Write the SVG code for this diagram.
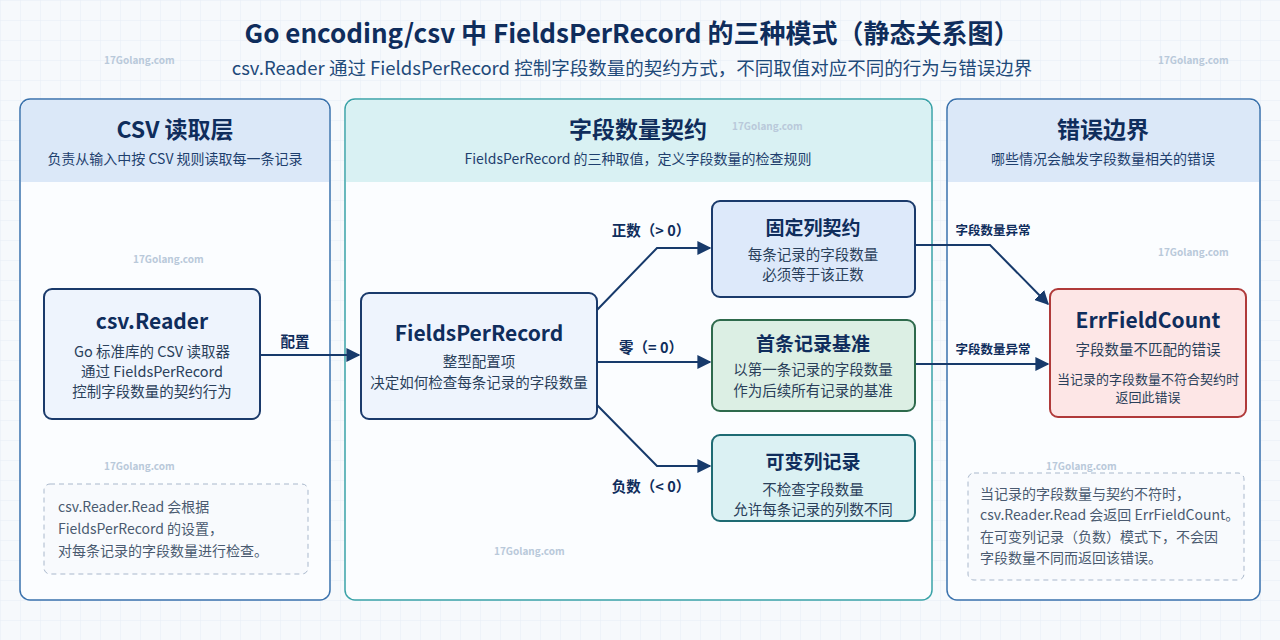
<svg xmlns="http://www.w3.org/2000/svg" width="1280" height="640" viewBox="0 0 1280 640">
<defs>
<pattern id="grid" width="20" height="20" patternUnits="userSpaceOnUse"><path d="M20 0H0V20" fill="none" stroke="#e6edf5" stroke-width="1"/></pattern>
<marker id="arr" viewBox="0 0 10 10" refX="9" refY="5" markerWidth="7" markerHeight="7" orient="auto"><path d="M0 0L10 5L0 10z" fill="#173a6b"/></marker>
<style>
text{font-family:"Noto Sans CJK SC","Noto Sans",sans-serif}
.t{font-size:26px;font-weight:700;fill:#0f2d5c;text-anchor:middle}
.st{font-size:18.5px;fill:#1e4a7a;text-anchor:middle}
.ph{font-size:23px;font-weight:700;fill:#0f2d5c;text-anchor:middle}
.ps{font-size:14px;fill:#1e3f6e;text-anchor:middle}
.nt{font-size:21px;font-weight:700;fill:#0f2d5c;text-anchor:middle}
.nt2{font-size:19px;font-weight:700;fill:#0f2d5c;text-anchor:middle}
.nd{font-size:14.5px;fill:#2a3f5a;text-anchor:middle}
.lb{font-size:14.5px;font-weight:700;fill:#0f2d5c;text-anchor:middle}
.lb2{font-size:12.5px;font-weight:700;fill:#0f2d5c;text-anchor:middle}
.note{font-size:14px;fill:#4a5a70}
.wm{font-size:10px;font-weight:700;fill:#b9c9da}
.c{fill:none;stroke:#173a6b;stroke-width:2;marker-end:url(#arr)}
</style>
</defs>
<rect width="1280" height="640" fill="#f6f9fc"/>
<rect width="1280" height="640" fill="url(#grid)"/>
<text class="t" x="632" y="43">Go encoding/csv 中 FieldsPerRecord 的三种模式（静态关系图）</text>
<text class="st" x="632" y="75">csv.Reader 通过 FieldsPerRecord 控制字段数量的契约方式，不同取值对应不同的行为与错误边界</text>

<g id="panel-read">
<rect x="20" y="99" width="310" height="501" rx="10" fill="#fbfdff" stroke="#3a72ad" stroke-width="1.5"/>
<path d="M21 182V109a9 9 0 0 1 9-9H320a9 9 0 0 1 9 9V182z" fill="#dbe8f8"/>
<text class="ph" x="175" y="138">CSV 读取层</text>
<text class="ps" x="175" y="164">负责从输入中按 CSV 规则读取每一条记录</text>
</g>
<g id="panel-contract">
<rect x="345" y="99" width="587" height="501" rx="10" fill="#fbfdff" stroke="#3aa3a8" stroke-width="1.5"/>
<path d="M346 182V109a9 9 0 0 1 9-9H922a9 9 0 0 1 9 9V182z" fill="#d9f1f3"/>
<text class="ph" x="638" y="138">字段数量契约</text>
<text class="ps" x="638" y="164">FieldsPerRecord 的三种取值，定义字段数量的检查规则</text>
</g>
<g id="panel-error">
<rect x="947" y="99" width="313" height="501" rx="10" fill="#fbfdff" stroke="#3a72ad" stroke-width="1.5"/>
<path d="M948 182V109a9 9 0 0 1 9-9H1250a9 9 0 0 1 9 9V182z" fill="#dbe8f8"/>
<text class="ph" x="1103" y="138">错误边界</text>
<text class="ps" x="1103" y="164">哪些情况会触发字段数量相关的错误</text>
</g>

<g id="wm">
<text class="wm" x="104" y="64">17Golang.com</text>
<text class="wm" x="133" y="263">17Golang.com</text>
<text class="wm" x="104" y="470">17Golang.com</text>
<text class="wm" x="732" y="130">17Golang.com</text>
<text class="wm" x="494" y="555">17Golang.com</text>
<text class="wm" x="1158" y="64">17Golang.com</text>
<text class="wm" x="1158" y="256">17Golang.com</text>
<text class="wm" x="1046" y="470">17Golang.com</text>
</g>

<g id="connectors">
<path class="c" d="M260 355H359"/>
<path class="c" d="M597 310L657 248H710"/>
<path class="c" d="M597 362H710"/>
<path class="c" d="M597 405L657 466H710"/>
<path class="c" d="M915 245H990L1048 304"/>
<path class="c" d="M915 364H1048"/>
<text class="lb" x="295" y="347">配置</text>
<text class="lb" x="651" y="236">正数（&gt; 0）</text>
<text class="lb" x="651" y="353">零（= 0）</text>
<text class="lb" x="651" y="492">负数（&lt; 0）</text>
<text class="lb2" x="993" y="235">字段数量异常</text>
<text class="lb2" x="993" y="354">字段数量异常</text>
</g>

<g id="csv-reader">
<rect x="44" y="289" width="216" height="130" rx="8" fill="#eef4fd" stroke="#1a3a6b" stroke-width="2"/>
<text class="nt" x="152" y="329">csv.Reader</text>
<text class="nd" x="152" y="357">Go 标准库的 CSV 读取器</text>
<text class="nd" x="152" y="377">通过 FieldsPerRecord</text>
<text class="nd" x="152" y="397">控制字段数量的契约行为</text>
</g>
<g id="note-read">
<rect x="44" y="484" width="264" height="90" rx="6" fill="#f8fafd" stroke="#a9b8cc" stroke-dasharray="5 4"/>
<text class="note" x="58" y="512">csv.Reader.Read 会根据</text>
<text class="note" x="58" y="534">FieldsPerRecord 的设置，</text>
<text class="note" x="58" y="556">对每条记录的字段数量进行检查。</text>
</g>
<g id="fields-per-record">
<rect x="361" y="293" width="236" height="126" rx="8" fill="#eef4fd" stroke="#1a3a6b" stroke-width="2"/>
<text class="nt" x="479" y="341">FieldsPerRecord</text>
<text class="nd" x="479" y="367">整型配置项</text>
<text class="nd" x="479" y="388">决定如何检查每条记录的字段数量</text>
</g>
<g id="fixed">
<rect x="712" y="201" width="203" height="96" rx="8" fill="#dde9fa" stroke="#1a3a6b" stroke-width="2"/>
<text class="nt2" x="813" y="235">固定列契约</text>
<text class="nd" x="813" y="260">每条记录的字段数量</text>
<text class="nd" x="813" y="280">必须等于该正数</text>
</g>
<g id="first">
<rect x="712" y="320" width="203" height="91" rx="8" fill="#dcefe4" stroke="#2e6a4c" stroke-width="2"/>
<text class="nt2" x="813" y="351">首条记录基准</text>
<text class="nd" x="813" y="375">以第一条记录的字段数量</text>
<text class="nd" x="813" y="396">作为后续所有记录的基准</text>
</g>
<g id="variable">
<rect x="712" y="435" width="203" height="86" rx="8" fill="#dbf1f3" stroke="#1e6b73" stroke-width="2"/>
<text class="nt2" x="813" y="469">可变列记录</text>
<text class="nd" x="813" y="495">不检查字段数量</text>
<text class="nd" x="813" y="515">允许每条记录的列数不同</text>
</g>
<g id="err">
<rect x="1050" y="289" width="196" height="128" rx="8" fill="#fde6e6" stroke="#b03a3a" stroke-width="2"/>
<text class="nt" x="1148" y="328">ErrFieldCount</text>
<text class="nd" x="1148" y="355">字段数量不匹配的错误</text>
<text class="nd" x="1148" y="384" style="font-size:13px">当记录的字段数量不符合契约时</text>
<text class="nd" x="1148" y="402" style="font-size:13px">返回此错误</text>
</g>
<g id="note-err">
<rect x="968" y="473" width="276" height="107" rx="6" fill="#f8fafd" stroke="#a9b8cc" stroke-dasharray="5 4"/>
<text class="note" x="980" y="499">当记录的字段数量与契约不符时，</text>
<text class="note" x="980" y="520">csv.Reader.Read 会返回 ErrFieldCount。</text>
<text class="note" x="980" y="542">在可变列记录（负数）模式下，不会因</text>
<text class="note" x="980" y="563">字段数量不同而返回该错误。</text>
</g>
</svg>
